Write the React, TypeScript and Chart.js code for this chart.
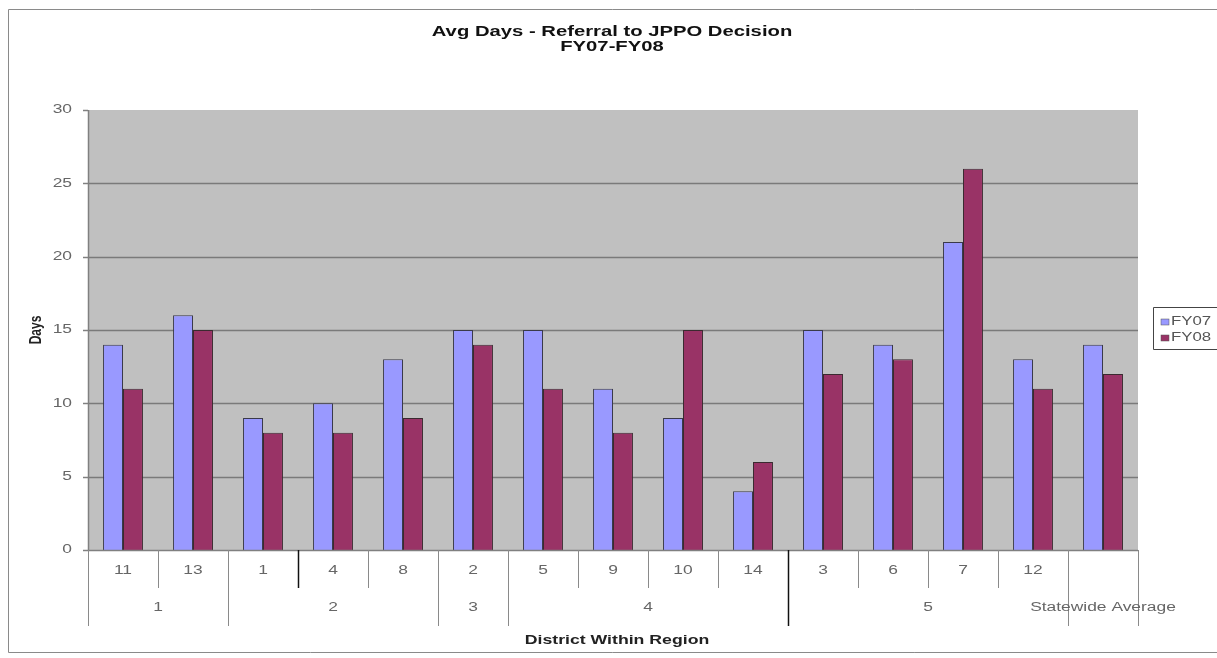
import React, { useEffect, useRef } from "react";
import { Chart, registerables } from "chart.js";

Chart.register(...registerables);

const districts = ["11", "13", "1", "4", "8", "2", "5", "9", "10", "14", "3", "6", "7", "12", ""];
const regionLabels = ["1", "2", "3", "4", "5", "Statewide Average"];
const regionSpans = [2, 3, 1, 4, 4, 1];
const fy07 = [14, 16, 9, 10, 13, 15, 15, 11, 9, 4, 15, 14, 21, 13, 14];
const fy08 = [11, 15, 8, 8, 9, 14, 11, 8, 15, 6, 12, 13, 26, 11, 12];
const yTicks = [0, 5, 10, 15, 20, 25, 30];
const seriesNames = ["FY07", "FY08"];
const seriesColors = ["#9999FF", "#993366"];
const titleLines = ["Avg Days - Referral to JPPO Decision", "FY07-FY08"];
const xTitle = "District Within Region";
const yTitle = "Days";

const FONT = '"Liberation Sans", Arial, sans-serif';
const SX = 1.4;

function drawText(
  ctx: CanvasRenderingContext2D,
  text: string,
  x: number,
  y: number,
  font: string,
  color: string,
  align: CanvasTextAlign,
  sx: number = SX
) {
  ctx.save();
  ctx.translate(x, y);
  ctx.scale(sx, 1);
  ctx.font = font;
  ctx.fillStyle = color;
  ctx.textAlign = align;
  ctx.textBaseline = "middle";
  ctx.fillText(text, 0, 0);
  ctx.restore();
}

function vline(ctx: CanvasRenderingContext2D, x: number, y1: number, y2: number, color: string, w = 1) {
  ctx.save();
  ctx.strokeStyle = color;
  ctx.lineWidth = w;
  ctx.beginPath();
  ctx.moveTo(Math.round(x) + 0.5, y1);
  ctx.lineTo(Math.round(x) + 0.5, y2);
  ctx.stroke();
  ctx.restore();
}

function hline(ctx: CanvasRenderingContext2D, y: number, x1: number, x2: number, color: string, w = 1) {
  ctx.save();
  ctx.strokeStyle = color;
  ctx.lineWidth = w;
  ctx.beginPath();
  ctx.moveTo(x1, Math.round(y) + 0.5);
  ctx.lineTo(x2, Math.round(y) + 0.5);
  ctx.stroke();
  ctx.restore();
}

const decorPlugin = {
  id: "decor",
  beforeDatasetsDraw(chart: any) {
    const { ctx, chartArea } = chart;
    const ys = chart.scales.y;
    ctx.save();
    ctx.fillStyle = "#C0C0C0";
    ctx.fillRect(chartArea.left, chartArea.top, chartArea.right - chartArea.left, chartArea.bottom - chartArea.top);
    ctx.restore();
    yTicks.forEach((v) => {
      if (v === 0 || v === 30) return;
      const y = ys.getPixelForValue(v);
      hline(ctx, y, chartArea.left, chartArea.right, "#7a7a7a", 1.6);
    });
  },
  afterDatasetsDraw(chart: any) {
    const { ctx, chartArea } = chart;
    const xs = chart.scales.x;
    const ys = chart.scales.y;
    const left = chartArea.left;
    const right = chartArea.right;
    const bottom = chartArea.bottom;
    const n = districts.length;
    const catW = (right - left) / n;

    // frame
    ctx.save();
    ctx.strokeStyle = "#8a8a8a";
    ctx.lineWidth = 1;
    ctx.beginPath();
    ctx.moveTo(1217, 9.5);
    ctx.lineTo(8.5, 9.5);
    ctx.lineTo(8.5, 652.5);
    ctx.lineTo(1217, 652.5);
    ctx.stroke();
    ctx.restore();

    // title
    drawText(ctx, titleLines[0], 612, 32, `bold 15px ${FONT}`, "#111", "center", 1.35);
    drawText(ctx, titleLines[1], 612, 47, `bold 15px ${FONT}`, "#111", "center", 1.35);

    // y axis
    vline(ctx, left, chartArea.top, bottom, "#808080", 1.5);
    yTicks.forEach((v) => {
      const y = ys.getPixelForValue(v);
      hline(ctx, y, left - 5, left, "#808080", 1.5);
      drawText(ctx, String(v), 72, y, `12px ${FONT}`, "#666", "right", 1.45);
    });

    // y title
    ctx.save();
    ctx.translate(37, (chartArea.top + bottom) / 2);
    ctx.rotate(-Math.PI / 2);
    ctx.scale(1, 1.3);
    ctx.font = `bold 12px ${FONT}`;
    ctx.fillStyle = "#222";
    ctx.textAlign = "center";
    ctx.textBaseline = "middle";
    ctx.fillText(yTitle, 0, 0);
    ctx.restore();

    // x axis baseline
    hline(ctx, bottom, left, right, "#808080", 1.5);

    // region boundaries
    const regionBounds: number[] = [0];
    regionSpans.forEach((s) => regionBounds.push(regionBounds[regionBounds.length - 1] + s));

    for (let i = 0; i <= n; i++) {
      const x = left + i * catW;
      const isRegion = regionBounds.indexOf(i) >= 0;
      const dark = i === 3 || i === 10;
      vline(ctx, x, bottom, isRegion ? 626 : 588, dark ? "#111" : "#8a8a8a", dark ? 1.5 : 1);
    }

    // district labels
    districts.forEach((d, i) => {
      if (!d) return;
      drawText(ctx, d, xs.getPixelForValue(i), 571, `12px ${FONT}`, "#666", "center", 1.45);
    });

    // region labels
    regionLabels.forEach((r, k) => {
      const cx = left + ((regionBounds[k] + regionBounds[k + 1]) / 2) * catW;
      drawText(ctx, r, cx, 608, `12px ${FONT}`, "#666", "center", 1.45);
    });

    // x title
    drawText(ctx, xTitle, 617, 640, `bold 13px ${FONT}`, "#222", "center", 1.36);

    // legend
    ctx.save();
    ctx.strokeStyle = "#444";
    ctx.lineWidth = 1;
    ctx.beginPath();
    ctx.moveTo(1217, 307.5);
    ctx.lineTo(1153.5, 307.5);
    ctx.lineTo(1153.5, 349.5);
    ctx.lineTo(1217, 349.5);
    ctx.stroke();
    ctx.restore();
    seriesNames.forEach((name, k) => {
      const y = 322 + k * 16;
      ctx.save();
      ctx.fillStyle = seriesColors[k];
      ctx.fillRect(1161, y - 3, 8, 6);
      ctx.strokeStyle = "#555";
      ctx.lineWidth = 0.5;
      ctx.strokeRect(1161, y - 3, 8, 6);
      ctx.restore();
      drawText(ctx, name, 1171, y, `12px ${FONT}`, "#555", "left", 1.4);
    });
  },
};

export default function App() {
  const ref = useRef<HTMLCanvasElement | null>(null);
  useEffect(() => {
    if (!ref.current) return;
    const chart = new Chart(ref.current, {
      type: "bar",
      data: {
        labels: districts,
        datasets: [
          {
            label: seriesNames[0],
            data: fy07,
            backgroundColor: seriesColors[0],
            borderColor: "#3a3a4a",
            borderWidth: 1,
            categoryPercentage: 0.57,
            barPercentage: 1,
          },
          {
            label: seriesNames[1],
            data: fy08,
            backgroundColor: seriesColors[1],
            borderColor: "#3a2a30",
            borderWidth: 1,
            categoryPercentage: 0.57,
            barPercentage: 1,
          },
        ],
      },
      options: {
        responsive: false,
        animation: false,
        devicePixelRatio: 1,
        layout: { padding: { left: 88, top: 110, right: 79, bottom: 108 } },
        plugins: {
          legend: { display: false },
          title: { display: false },
          tooltip: { enabled: false },
        },
        scales: {
          x: { display: false, offset: true },
          y: { display: false, min: 0, max: 30 },
        },
      },
      plugins: [decorPlugin],
    } as any);
    return () => chart.destroy();
  }, []);
  return (
    <canvas
      ref={ref}
      width={1217}
      height={658}
      style={{ position: "absolute", left: 0, top: 0, display: "block", background: "#fff" }}
    />
  );
}
